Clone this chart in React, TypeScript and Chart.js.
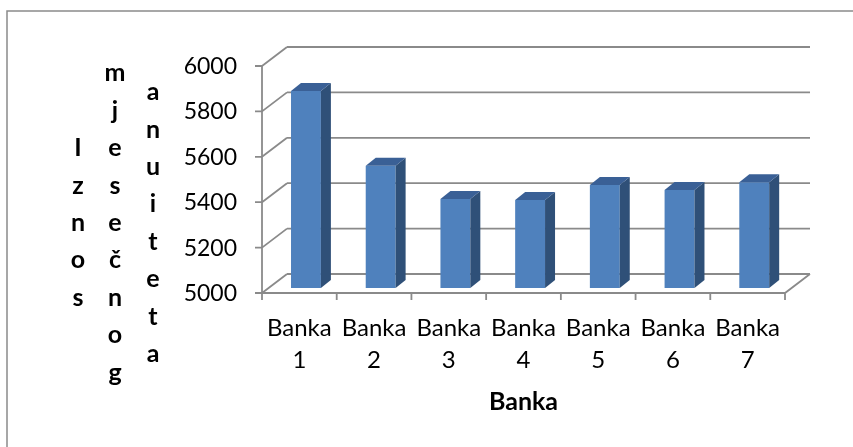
import { useEffect, useRef } from "react";
import { Chart, registerables } from "chart.js";

Chart.register(...registerables);

// ---- data ----
const categories = ["Banka 1", "Banka 2", "Banka 3", "Banka 4", "Banka 5", "Banka 6", "Banka 7"];
const values = [5868, 5539, 5392, 5388, 5454, 5432, 5466];
const yMin = 5000;
const yMax = 6000;
const yStep = 200;
const xTitle = "Banka";
const yTitleWords = ["Iznos", "mjesečnog", "anuiteta"];

// ---- style / geometry ----
const W = 853;
const H = 447;
const DX = 25; // depth offset of back wall
const DY = 19;
const FX = 6.6; // bar front face depth offset
const FY = 5;
const BDX = 10; // bar depth
const BDY = 8;
const LINE = "#8a8a8a";
const FONT = "Lato, 'Open Sans', sans-serif";

const box3d = {
  id: "box3d",
  beforeDraw(chart: any) {
    const { ctx, chartArea } = chart;
    const ys = chart.scales.y;
    const xs = chart.scales.x;
    const L = chartArea.left;
    const R = chartArea.right;
    const B = chartArea.bottom;
    const T = chartArea.top;
    ctx.save();
    ctx.fillStyle = "#fff";
    ctx.fillRect(0, 0, W, H);
    // outer frame
    ctx.strokeStyle = LINE;
    ctx.lineWidth = 1.5;
    ctx.strokeRect(7, 11, 1000, 1000);

    ctx.lineWidth = 1.8;
    ctx.strokeStyle = LINE;
    const ticks: number[] = [];
    for (let v = yMin; v <= yMax + 1e-9; v += yStep) ticks.push(v);
    ctx.beginPath();
    for (const v of ticks) {
      const y = ys.getPixelForValue(v);
      ctx.moveTo(L + DX, y - DY);
      ctx.lineTo(R + DX, y - DY);
      ctx.moveTo(L, y);
      ctx.lineTo(L + DX, y - DY);
      ctx.moveTo(L - 7, y);
      ctx.lineTo(L, y);
    }
    ctx.moveTo(L, T);
    ctx.lineTo(L, B);
    ctx.moveTo(L, B);
    ctx.lineTo(R, B);
    ctx.lineTo(R + DX, B - DY);
    const n = categories.length;
    const cw = (R - L) / n;
    for (let i = 0; i <= n; i++) {
      const x = L + i * cw;
      ctx.moveTo(x, B);
      ctx.lineTo(x, B + 7);
    }
    ctx.stroke();

    // y tick labels
    ctx.fillStyle = "#000";
    ctx.font = `23px ${FONT}`;
    ctx.textAlign = "right";
    ctx.textBaseline = "alphabetic";
    for (const v of ticks) {
      const y = ys.getPixelForValue(v);
      ctx.fillText(String(v), L - 25, y + 8);
    }
    // x labels
    ctx.textAlign = "center";
    ctx.font = `24px ${FONT}`;
    categories.forEach((c, i) => {
      const x = xs.getPixelForValue(i);
      const parts = c.split(" ");
      parts.forEach((p, j) => ctx.fillText(p, x, B + 43 + j * 32));
    });
    // x title
    ctx.font = `bold 25px ${FONT}`;
    ctx.fillText(xTitle, (L + R) / 2, B + 117);
    // y title (stacked letters, one column per word)
    const colX = [78, 115, 153];
    const pitch = 37.4;
    const mid = 231;
    yTitleWords.forEach((w, ci) => {
      const letters = Array.from(w);
      const m = (letters.length - 1) / 2;
      letters.forEach((ch, k) => {
        ctx.fillText(ch, colX[ci], mid + (k - m) * pitch);
      });
    });
    ctx.restore();
  },
  beforeDatasetsDraw(chart: any) {
    chart.ctx.save();
    chart.ctx.translate(FX, -FY);
  },
  afterDatasetsDraw(chart: any) {
    const { ctx } = chart;
    ctx.restore();
    const ys = chart.scales.y;
    const basePx = ys.getPixelForValue(yMin);
    const meta = chart.getDatasetMeta(0);
    ctx.save();
    meta.data.forEach((el: any) => {
      const xl = el.x - el.width / 2 + FX;
      const xr = el.x + el.width / 2 + FX;
      const yt = el.y - FY;
      const yb = Math.min(el.base, basePx) - FY;
      // side
      ctx.fillStyle = "#2F5078";
      ctx.beginPath();
      ctx.moveTo(xr, yt);
      ctx.lineTo(xr + BDX, yt - BDY);
      ctx.lineTo(xr + BDX, yb - BDY);
      ctx.lineTo(xr, yb);
      ctx.closePath();
      ctx.fill();
      // top
      ctx.fillStyle = "#3A6096";
      ctx.beginPath();
      ctx.moveTo(xl, yt);
      ctx.lineTo(xl + BDX, yt - BDY);
      ctx.lineTo(xr + BDX, yt - BDY);
      ctx.lineTo(xr, yt);
      ctx.closePath();
      ctx.fill();
    });
    ctx.restore();
  },
};

export default function App() {
  const ref = useRef<HTMLCanvasElement | null>(null);
  useEffect(() => {
    if (!ref.current) return;
    const chart = new Chart(ref.current, {
      type: "bar",
      data: {
        labels: categories,
        datasets: [
          {
            data: values,
            backgroundColor: "#4F81BD",
            borderWidth: 0,
            categoryPercentage: 1,
            barPercentage: 0.4,
          },
        ],
      },
      options: {
        responsive: false,
        animation: false,
        devicePixelRatio: 1,
        layout: { padding: { left: 262, right: 68, top: 66, bottom: 154 } },
        plugins: { legend: { display: false }, tooltip: { enabled: false } },
        scales: {
          x: { display: false },
          y: { display: false, min: yMin, max: yMax },
        },
      },
      plugins: [box3d],
    });
    return () => chart.destroy();
  }, []);
  return (
    <div style={{ position: "fixed", left: 0, top: 0, width: W, height: H, background: "#fff" }}>
      <canvas ref={ref} width={W} height={H} style={{ display: "block" }} />
    </div>
  );
}
